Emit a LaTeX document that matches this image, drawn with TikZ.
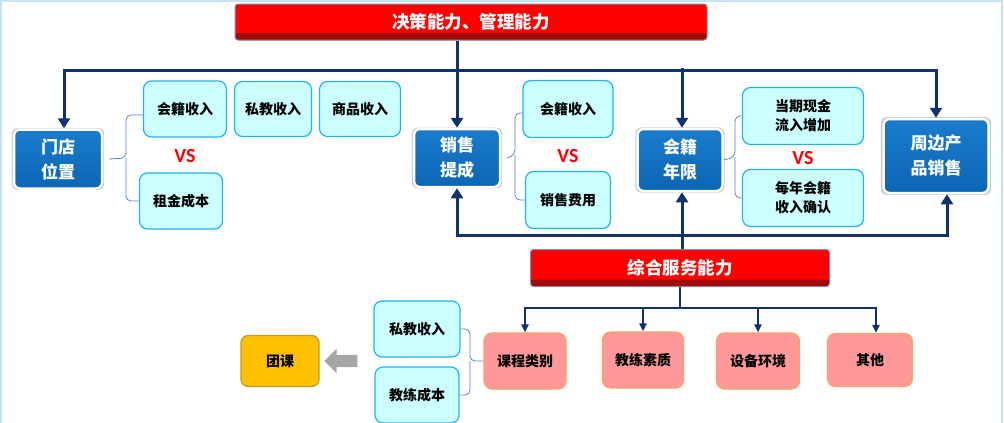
\documentclass[tikz,border=0pt]{standalone}
\usepackage{fontspec}
\setmainfont{Noto Sans CJK SC}
\newfontfamily\vsfont{Carlito}
\usetikzlibrary{positioning, arrows.meta, shadows, shapes.arrows}

\definecolor{navy}{HTML}{10306E}
\definecolor{boxblue}{HTML}{0C66B4}
\definecolor{boxbluetop}{HTML}{1A7CCC}
\definecolor{cyanfill}{HTML}{CCFFFF}
\definecolor{cyanline}{HTML}{1FB4F0}
\definecolor{pinkfill}{HTML}{FF9999}
\definecolor{pinkline}{HTML}{F7A06A}
\definecolor{goldfill}{HTML}{FFC000}
\definecolor{goldline}{HTML}{C49A22}
\definecolor{bannerred}{HTML}{FF0000}
\definecolor{bannerdark}{HTML}{A00A0A}
\definecolor{bannerline}{HTML}{7D8CA8}
\definecolor{bracecol}{HTML}{5B7FD0}
\definecolor{framecol}{HTML}{C6E0F7}

\begin{document}
\begin{tikzpicture}[x=1pt,y=-1pt,node distance=100pt,on grid,
  >={Triangle[length=10pt,width=12pt]}]
\tikzstyle{darkbox}=[rectangle,rounded corners=6pt,draw=white,line width=2.5pt,
  top color=boxbluetop,bottom color=boxblue,text=white,align=center,inner sep=0pt,
  font=\bfseries\fontsize{17}{25}\selectfont,
  general shadow={fill=black!22,shadow scale=1.05}]
\tikzstyle{item}=[rectangle,rounded corners=8pt,draw=cyanline,line width=1.2pt,
  fill=cyanfill,align=center,inner sep=0pt,font=\bfseries\fontsize{14}{19}\selectfont]
\tikzstyle{factor}=[rectangle,rounded corners=8pt,draw=pinkline,line width=1.2pt,
  fill=pinkfill,align=center,inner sep=0pt,minimum height=56pt,
  font=\bfseries\fontsize{14}{19}\selectfont]
\tikzstyle{banner}=[rectangle,rounded corners=3pt,draw=bannerline,line width=1pt,
  fill=bannerred,text=white,inner sep=0pt,font=\bfseries\fontsize{17.5}{20}\selectfont,
  path picture={\fill[bannerdark] (path picture bounding box.south west)
    rectangle ([yshift=7pt]path picture bounding box.south east);}]
\tikzstyle{vs}=[text=red,font=\vsfont\bfseries\fontsize{20}{22}\selectfont]
\tikzstyle{bus}=[draw=navy,line width=3pt]
\tikzstyle{thinbus}=[draw=navy,line width=2pt,>={Triangle[length=8pt,width=7pt]}]
\tikzstyle{brc}=[draw=bracecol,line width=0.8pt,rounded corners=5pt]

  \useasboundingbox (0,0) rectangle (1004,423);
  \draw[framecol,line width=1.5pt] (0.75,0.75) rectangle (1002,440);

  %--- top level ---
  \node[banner,minimum width=472pt,minimum height=36pt] (dec) at (471,22) {决策能力、管理能力};

  \node[darkbox,minimum width=88pt,minimum height=59pt] (mendian) at (58,159) {门店\\位置};
  \node[darkbox,minimum width=86pt,minimum height=58pt] (xiaoshou) at (457,158) {销售\\提成};
  \node[darkbox,minimum width=85pt,minimum height=62pt] (huiji) at (680,160) {会籍\\年限};
  \node[darkbox,minimum width=105pt,minimum height=74pt] (zhoubian) at (936,156) {周边产\\品销售};

  %--- items of each box ---
  \node[item,minimum width=83pt,minimum height=56pt] (a1) [right=127pt of mendian, yshift=50pt] {会籍收入};
  \node[item,minimum width=77pt,minimum height=55pt] (a2) [right=88pt of a1] {私教收入};
  \node[item,minimum width=81pt,minimum height=55pt] (a3) [right=87pt of a2] {商品收入};
  \node[item,minimum width=83pt,minimum height=56pt] (a4) [below=92pt of a1, xshift=-4pt] {租金成本};
  \node[vs] (vs1) [below=47pt of a1] {VS};

  \node[item,minimum width=90pt,minimum height=57pt] (b1) [right=111pt of xiaoshou, yshift=49pt] {会籍收入};
  \node[item,minimum width=85pt,minimum height=57pt] (b2) [below=91pt of b1] {销售费用};
  \node[vs] (vs2) [below=47pt of b1] {VS};

  \node[item,minimum width=121pt,minimum height=57pt] (c1) [right=123pt of huiji, yshift=44pt] {当期现金\\流入增加};
  \node[item,minimum width=121pt,minimum height=57pt] (c2) [below=82pt of c1] {每年会籍\\收入确认};
  \node[vs] (vs3) [below=42pt of c1] {VS};

  %--- service level ---
  \node[banner,minimum width=299pt,minimum height=37pt] (svc) [below=108pt of huiji] {综合服务能力};

  \node[factor,minimum width=82pt] (p1) [below=93pt of svc, xshift=-155pt] {课程类别};
  \node[factor,minimum width=81pt] (p2) [right=118pt of p1, yshift=1pt] {教练素质};
  \node[factor,minimum width=83pt] (p3) [right=115pt of p2, yshift=-1pt] {设备环境};
  \node[factor,minimum width=85pt,minimum height=53pt] (p4) [right=112pt of p3, yshift=1pt] {其他};

  \node[item,minimum width=86pt,minimum height=56pt] (d1) [left=108pt of p1, yshift=32pt] {私教收入};
  \node[item,minimum width=84pt,minimum height=56pt] (d2) [below=66pt of d1] {教练成本};

  \node[single arrow,fill=black!35,shape border rotate=180,inner sep=0pt,
    minimum height=33pt,single arrow head extend=6pt] (garr) [left=181pt of p1] {\rule{0pt}{12pt}};
  \node[rectangle,rounded corners=7pt,draw=goldline,line width=1.2pt,fill=goldfill,
    minimum width=78pt,minimum height=51pt,inner sep=0pt,
    font=\bfseries\fontsize{14}{19}\selectfont] (tuanke) [left=245pt of p1] {团课};

  %--- connectors ---
  \coordinate (tbus) at (0,70);
  \coordinate (bbus) at (0,235);
  \coordinate (sbus) at (0,308);
  \coordinate (mtop) at ([xshift=6pt]mendian.north);
  \coordinate (ztop) at (zhoubian.north);
  \coordinate (zbot) at ([xshift=11pt]zhoubian.south);
  \coordinate (htop) at ([xshift=2pt]huiji.north);
  \coordinate (hbot) at ([xshift=2pt]huiji.south);
  \coordinate (qtop) at ([xshift=6pt]p4.north);

  \draw[bus,->] (dec.south -| xiaoshou.north) -- (xiaoshou.north);
  \draw[bus,<->] (mtop) |- (tbus -| ztop) -- (ztop);
  \draw[bus,->] ([yshift=2pt]tbus -| htop) -- (htop);

  \draw[bus,<->] (xiaoshou.south) |- (bbus -| zbot) -- (zbot);
  \draw[bus,->] (svc.north -| hbot) -- (hbot);

  \draw[thinbus] (svc.south) -- (svc.south |- sbus);
  \draw[thinbus,<->] (p1.north) |- (sbus -| qtop) -- (qtop);
  \draw[thinbus,->] (sbus -| p2.north) -- (p2.north);
  \draw[thinbus,->] (sbus -| p3.north) -- (p3.north);

  %--- braces ---
  \coordinate (brL) at (126,158);
  \coordinate (brM) at (515,155);
  \coordinate (brR) at (735,157);
  \coordinate (brB) at (470,361);
  \draw[brc] ([yshift=-6pt]a1.west) -| (brL) -- ([xshift=6pt]mendian.east);
  \draw[brc] (a4.west) -| (brL);
  \draw[brc] ([yshift=-4pt]b1.west) -| (brM) -- ([xshift=6pt]xiaoshou.east);
  \draw[brc] (b2.west) -| (brM);
  \draw[brc] (c1.west) -| (brR) -- (huiji.east);
  \draw[brc] (c2.west) -| (brR);
  \draw[brc] (d1.east) -| (brB) -- (p1.west);
  \draw[brc] (d2.east) -| (brB);
\end{tikzpicture}
\end{document}
